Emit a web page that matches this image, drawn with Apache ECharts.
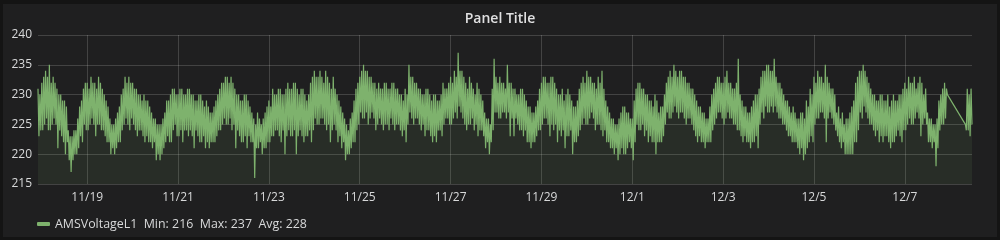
<!DOCTYPE html>
<html>
<head>
<meta charset="utf-8">
<script src="https://cdn.jsdelivr.net/npm/echarts@6/dist/echarts.min.js"></script>
<style>
  html, body { margin: 0; padding: 0; background: #141414; }
  #chart { position: absolute; left: 0; top: 0; width: 1000px; height: 240px; }
  #frame { position: absolute; left: 0; top: 0; width: 1000px; height: 240px; box-sizing: border-box;
           border-style: solid; border-color: #141414; border-width: 4px 3px 3px 3px; pointer-events: none; }
</style>
</head>
<body>
<div id="chart"></div>
<div id="frame"></div>
<script>
// Readings for every hour starting 11/17 22:00: one at :00 and one at :30 (null = no data)
const seriesName = 'AMSVoltageL1';
const voltageAt00 = [
  231,230,232,233,234,233,235,232,233,232,
  231,230,230,229,229,228,224,223,223,224,
  224,226,228,229,231,232,232,231,233,232,
  232,231,233,232,231,230,229,228,226,225,
  225,226,227,228,230,231,233,232,233,232,
  232,231,231,230,230,229,230,229,229,228,
  227,226,226,225,225,225,226,227,229,229,
  230,231,231,230,230,231,231,230,230,231,
  231,230,230,229,229,230,230,229,228,229,
  228,227,227,228,229,230,231,232,232,233,
  233,232,233,232,231,230,230,229,229,230,
  230,229,228,227,226,225,227,226,225,226,
  227,228,229,228,231,230,230,231,231,230,
  230,231,232,231,231,232,232,231,230,231,
  231,230,229,230,232,233,234,233,233,234,
  233,232,234,233,232,231,233,231,230,229,
  228,227,226,225,224,226,227,229,231,232,
  233,234,235,234,234,233,233,232,232,231,
  232,231,231,232,232,231,231,232,232,231,
  231,230,230,229,231,230,235,233,233,232,
  232,231,231,230,230,231,231,230,229,230,
  230,229,229,230,232,231,231,232,233,232,
  234,233,237,234,234,233,232,231,233,232,
  231,230,232,231,230,229,227,226,226,225,
  231,236,233,232,233,232,232,231,235,232,
  232,231,231,230,230,231,231,230,229,228,
  228,227,227,228,229,231,232,233,233,232,
  232,233,233,232,231,230,230,231,229,230,
  231,230,229,228,228,229,231,232,233,232,
  234,233,233,232,232,231,233,232,234,231,
  229,228,227,226,226,225,225,226,227,228,
  228,227,227,226,226,229,231,232,232,231,
  231,230,230,229,229,228,230,229,227,228,
  228,230,232,233,234,233,235,234,233,234,
  234,233,233,232,232,231,231,230,229,228,
  228,227,227,226,226,228,230,231,232,233,
  233,232,232,233,234,232,232,231,231,232,
  236,230,229,228,228,227,227,228,229,230,
  230,231,233,234,234,235,235,234,234,236,
  233,232,232,231,230,229,229,228,227,228,
  227,226,226,227,227,226,229,228,231,230,
  233,232,234,233,233,232,235,233,232,231,
  231,230,227,228,226,227,225,226,226,227,
  228,229,232,233,234,234,235,234,233,232,
  231,230,230,229,229,230,230,229,229,230,
  228,229,230,229,229,230,230,231,232,231,
  233,232,232,233,231,232,233,232,230,231,
  227,226,226,225,225,226,229,230,231,232,
  231,null,null,null,null,null,null,null,null,null,
  225,231,230,231
];
const voltageAt30 = [
  223,224,224,225,226,224,224,225,226,225,
  221,224,223,222,220,222,219,217,219,220,
  220,221,223,222,225,224,224,225,226,225,
  223,225,225,224,224,223,222,222,220,221,
  220,221,222,222,224,225,226,225,224,226,
  225,224,223,224,224,223,222,223,222,222,
  221,222,219,220,219,220,221,222,223,222,
  222,224,225,223,223,224,222,224,224,223,
  224,223,221,224,223,222,222,223,221,222,
  221,222,222,222,223,224,224,225,226,225,
  225,226,224,225,221,224,223,222,222,223,
  221,223,222,222,216,221,221,222,220,221,
  221,222,222,223,223,224,224,223,222,224,
  220,223,224,223,223,224,220,223,224,223,
  222,223,223,224,222,224,226,225,225,226,
  226,225,224,225,222,224,225,224,222,223,
  221,222,219,220,220,221,222,222,224,225,
  227,226,226,227,225,226,227,226,224,225,
  226,225,224,225,225,224,226,225,224,225,
  225,224,223,224,222,225,227,226,225,226,
  226,225,224,225,223,224,224,223,222,223,
  222,224,224,223,225,226,226,225,225,226,
  227,226,228,227,226,225,224,225,225,226,
  224,225,223,224,224,223,221,222,220,222,
  224,227,227,226,226,227,227,226,227,223,
  226,223,226,225,224,224,223,224,222,222,
  221,222,222,223,224,224,225,226,226,225,
  223,225,224,225,222,224,223,224,221,223,
  223,224,220,222,222,223,224,225,226,225,
  225,226,227,226,224,225,225,224,223,224,
  222,222,221,221,220,221,219,220,221,220,
  220,221,222,221,219,222,225,224,224,225,
  223,224,222,223,222,222,220,222,222,222,
  223,225,227,226,226,227,228,227,226,227,
  227,226,225,226,226,225,224,223,222,223,
  222,222,221,222,222,222,224,225,226,227,
  227,226,225,226,227,226,226,225,225,224,
  224,223,222,223,222,222,221,222,222,223,
  221,225,227,226,228,227,227,228,227,228,
  227,226,226,225,225,224,223,223,222,222,
  222,221,220,221,219,220,221,222,223,222,
  225,226,226,227,227,226,222,226,227,226,
  225,224,223,222,221,222,220,220,220,220,
  220,222,222,224,227,226,228,227,226,225,
  225,224,223,224,222,223,222,223,223,222,
  221,222,222,223,224,223,222,224,224,225,
  226,225,225,226,227,226,223,225,226,225,
  222,222,221,222,218,221,224,225,225,226,
  230,null,null,null,null,null,null,null,null,null,
  224,224,223,225
];
const tickLabels = ['11/19','11/21','11/23','11/25','11/27','11/29','12/1','12/3','12/5','12/7'];
const yTicks = [215, 220, 225, 230, 235, 240];
const legendStats = { min: 216, max: 237, avg: 228 };
const startUTC = Date.UTC(2017, 10, 17, 22);

// time-ordered samples: :00 reading then :30 reading of each hour
const categories = [];
const voltage = [];
function stamp(ms) {
  const d = new Date(ms);
  return (d.getUTCMonth() + 1) + '/' + d.getUTCDate() + ' ' +
    String(d.getUTCHours()).padStart(2, '0') + ':' + String(d.getUTCMinutes()).padStart(2, '0');
}
for (let h = 0; h < voltageAt00.length; h++) {
  categories.push(stamp(startUTC + h * 3600000));
  voltage.push(voltageAt00[h]);
  categories.push(stamp(startUTC + h * 3600000 + 1800000));
  voltage.push(voltageAt30[h]);
}
function isTick(index, value) {
  const parts = String(value).split(' ');
  return parts[1] === '00:00' && tickLabels.indexOf(parts[0]) >= 0;
}

const chart = echarts.init(document.getElementById('chart'), null, { renderer: 'canvas' });
const font = '"Open Sans", "Noto Sans", sans-serif';
chart.setOption({
  backgroundColor: '#1f1f20',
  animation: false,
  textStyle: { fontFamily: font },
  title: {
    text: 'Panel Title', left: 'center', top: 7,
    textStyle: { color: '#e0e0e1', fontSize: 14, fontWeight: 600, fontFamily: font }
  },
  legend: {
    data: [seriesName], left: 32, top: 213,
    icon: 'roundRect', itemWidth: 13, itemHeight: 4,
    textStyle: { color: '#d8d9da', fontSize: 12.4, fontFamily: font },
    formatter: function (name) {
      return name + '  Min: ' + legendStats.min + '  Max: ' + legendStats.max + '  Avg: ' + legendStats.avg;
    }
  },
  grid: { left: 38, right: 28, top: 35, bottom: 56, containLabel: false },
  xAxis: {
    type: 'category', data: categories, boundaryGap: false,
    axisLine: { show: false }, axisTick: { show: false },
    axisLabel: {
      interval: isTick, color: '#d8d9da', fontSize: 12, margin: 8, fontFamily: font,
      formatter: function (v) { return String(v).split(' ')[0]; }
    },
    splitLine: { show: true, interval: isTick, lineStyle: { color: 'rgba(255,255,255,0.16)', width: 1 } }
  },
  yAxis: {
    type: 'value', min: yTicks[0], max: yTicks[yTicks.length - 1], interval: 5,
    axisLine: { show: false }, axisTick: { show: false },
    axisLabel: { color: '#d8d9da', fontSize: 12, margin: 6, fontFamily: font },
    splitLine: { lineStyle: { color: 'rgba(255,255,255,0.16)', width: 1 } }
  },
  series: [{
    name: seriesName, type: 'line', data: voltage,
    showSymbol: false, symbol: 'none', connectNulls: true, sampling: null,
    color: '#7eb26d',
    lineStyle: { color: '#7eb26d', width: 1.2 },
    areaStyle: { color: '#7eb26d', opacity: 0.1, origin: 'start' }
  }]
});
</script>
</body>
</html>
